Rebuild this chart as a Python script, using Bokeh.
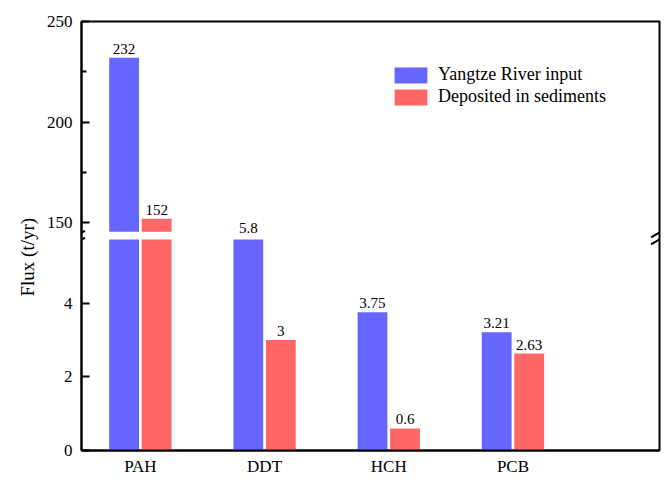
import numpy as np
from bokeh.plotting import figure
from bokeh.models import (ColumnDataSource, Range1d, FixedTicker, Legend, LegendItem,
                          Title, Arrow)
from bokeh.embed import file_html
from bokeh.resources import INLINE
from bokeh.core.properties import value

# ---------------- data ----------------
categories = ["PAH", "DDT", "HCH", "PCB"]
yangtze_input = [232, 5.8, 3.75, 3.21]
deposited = [152, 3, 0.6, 2.63]
yangtze_labels = ["232", "5.8", "3.75", "3.21"]
deposited_labels = ["152", "3", "0.6", "2.63"]
series_names = ["Yangtze River input", "Deposited in sediments"]
lower_ticks = [0, 2, 4]
upper_ticks = [150, 200, 250]
upper_minor_ticks = [175, 225]
y_title = "Flux (t/yr)"

# ---------------- broken axis geometry ----------------
LOW_MAX = 5.73      # top of lower segment
UP_MIN = 145.5      # bottom of upper segment
UP_MAX = 250
LOW_FRAC = 0.492    # fraction of frame height where lower segment ends
UP_FRAC = 0.510     # fraction of frame height where upper segment starts

low_end = LOW_MAX / LOW_FRAC
up_span = (UP_MAX - UP_MIN) / (1 - UP_FRAC)
up_start = UP_MAX - up_span


def up_to_low(u):
    return round((u - up_start) / (UP_MAX - up_start) * low_end, 6)


FONT = value("Liberation Serif")
BLUE = "#6666FF"
RED = "#FF6666"

W, H = 661, 478
BL, BR, BT, BB = 81, 2, 21, 24
FW = W - BL - BR
FH = H - BT - BB
X0, X1 = 0.526, 5.18
OFF = 0.131
BW = 0.24

p = figure(width=W, height=H, x_range=Range1d(X0, X1), y_range=Range1d(0, low_end),
           output_backend="svg", toolbar_location=None,
           min_border_left=BL, min_border_right=BR, min_border_top=BT, min_border_bottom=BB)
p.extra_y_ranges = {"upper": Range1d(up_start, UP_MAX)}
p.xgrid.visible = False
p.ygrid.visible = False
p.outline_line_color = "black"
p.outline_line_width = 2
p.background_fill_color = "white"
p.border_fill_color = "white"

xpos = np.arange(1, len(categories) + 1)
yin = np.array(yangtze_input, dtype=float)
dep = np.array(deposited, dtype=float)

series = [(yin, yangtze_labels, -OFF, BLUE), (dep, deposited_labels, OFF, RED)]
legend_renderers = []
for vals, labs, off, col in series:
    # lower segment bars
    src_low = ColumnDataSource(dict(x=xpos + off, top=np.minimum(vals, LOW_MAX)))
    r = p.vbar(x="x", top="top", bottom=0, width=BW, source=src_low,
               fill_color=col, line_color=None)
    legend_renderers.append(r)
    # upper segment bars
    m = vals > UP_MIN
    src_up = ColumnDataSource(dict(x=(xpos + off)[m], top=vals[m]))
    p.vbar(x="x", top="top", bottom=UP_MIN, width=BW, source=src_up,
           fill_color=col, line_color=None, y_range_name="upper")
    # labels
    lab_low = ColumnDataSource(dict(x=(xpos + off)[~m], y=vals[~m],
                                    t=[l for l, k in zip(labs, m) if not k]))
    p.text(x="x", y="y", text="t", source=lab_low, text_align="center",
           text_baseline="bottom", y_offset=-4, text_font=FONT,
           text_font_size="15px", text_color="black")
    lab_up = ColumnDataSource(dict(x=(xpos + off)[m], y=vals[m],
                                   t=[l for l, k in zip(labs, m) if k]))
    p.text(x="x", y="y", text="t", source=lab_up, text_align="center",
           text_baseline="bottom", y_offset=-4, text_font=FONT,
           text_font_size="15px", text_color="black", y_range_name="upper")

# ---------------- axes ----------------
yax = p.yaxis[0]
up_pos = [up_to_low(u) for u in upper_ticks]
yax.ticker = FixedTicker(ticks=lower_ticks + up_pos,
                         minor_ticks=[up_to_low(u) for u in upper_minor_ticks])
overrides = {t: str(t) for t in lower_ticks}
overrides.update({pp: str(u) for pp, u in zip(up_pos, upper_ticks)})
yax.major_label_overrides = overrides
yax.major_tick_in = 8
yax.major_tick_out = 0
yax.minor_tick_in = 5
yax.minor_tick_out = 0
yax.major_tick_line_width = 2
yax.minor_tick_line_width = 2
yax.axis_line_width = 2
yax.major_label_text_font = "Liberation Serif"
yax.major_label_text_font_size = "17px"
yax.major_label_standoff = 9
yax.major_label_text_color = "black"

xax = p.xaxis[0]
xax.ticker = FixedTicker(ticks=[int(v) for v in xpos])
xax.major_label_overrides = {int(v): c for v, c in zip(xpos, categories)}
xax.major_tick_in = 0
xax.major_tick_out = 0
xax.minor_tick_line_color = None
xax.major_tick_line_color = None
xax.axis_line_width = 2
xax.major_label_text_font = "Liberation Serif"
xax.major_label_text_font_size = "17px"
xax.major_label_standoff = 6
xax.major_label_text_color = "black"

# y title (left side title, placed a little below centre like the reference)
p.add_layout(Title(text=y_title, align="left", offset=154, standoff=12,
                   text_font="Liberation Serif", text_font_size="19px",
                   text_font_style="normal", text_color="black"), "left")

# ---------------- break marks ----------------
pxx = (X1 - X0) / FW
pxy = low_end / FH
yc = (LOW_FRAC + UP_FRAC) / 2 * low_end
for ax_x, l_px, r_px in [(X0, -9.5, 3.5), (X1, -8.5, 3.0)]:
    for dy in (-1.5, 5.5):
        ycen = yc - dy * pxy
        p.add_layout(Arrow(end=None, x_start=ax_x + l_px * pxx, y_start=ycen - 3.3 * pxy,
                           x_end=ax_x + r_px * pxx, y_end=ycen + 3.3 * pxy,
                           line_color="black", line_width=2))

# ---------------- legend ----------------
legend = Legend(items=[LegendItem(label=series_names[0], renderers=[legend_renderers[0]]),
                       LegendItem(label=series_names[1], renderers=[legend_renderers[1]])],
                location=(309, FH - 45 - 45))
legend.border_line_color = None
legend.background_fill_alpha = 0
legend.padding = 0
legend.margin = 0
legend.spacing = 1
legend.glyph_width = 41
legend.glyph_height = 20
legend.label_height = 20
legend.label_standoff = 7
legend.label_text_font = "Liberation Serif"
legend.label_text_font_size = "18px"
legend.label_text_color = "black"
p.add_layout(legend)

open("out.html", "w").write(file_html(p, INLINE, "Flux"))
